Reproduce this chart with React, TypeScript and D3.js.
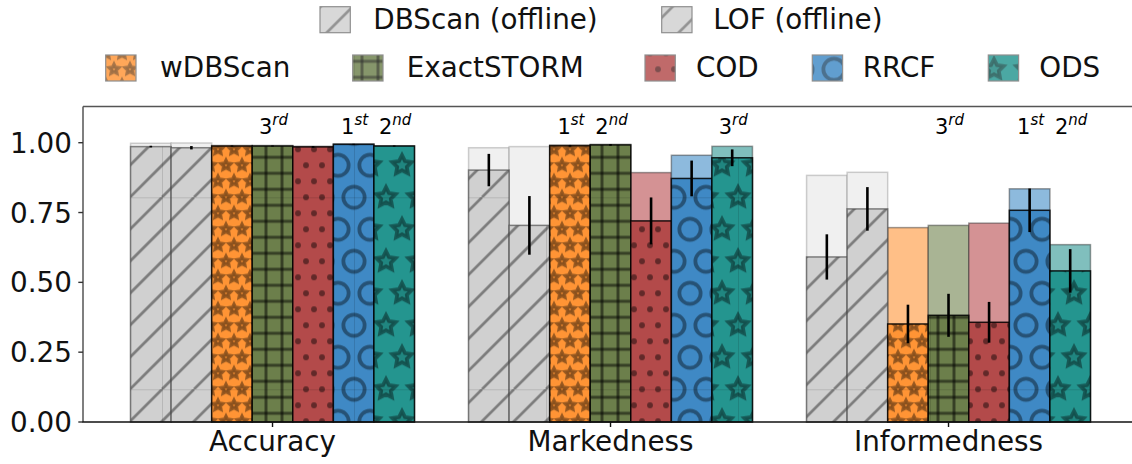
import React from 'react';
import * as d3 from 'd3';

// Metrics on the x axis and the compared detectors
const metrics = ['Accuracy', 'Markedness', 'Informedness'];
const methods = ['DBScan (offline)', 'LOF (offline)', 'wDBScan', 'ExactSTORM', 'COD', 'RRCF', 'ODS'];

// Mean score per method (solid hatched bar)
const accuracyMean = [0.986, 0.982, 0.988, 0.988, 0.985, 0.994, 0.988];
const markednessMean = [0.902, 0.704, 0.989, 0.992, 0.72, 0.872, 0.946];
const informednessMean = [0.591, 0.763, 0.351, 0.382, 0.357, 0.758, 0.541];

// Best score per method (pale bar behind)
const accuracyMax = [0.998, 0.999, 0.99, 0.99, 0.987, 0.996, 0.989];
const markednessMax = [0.982, 0.986, 0.992, 0.994, 0.893, 0.955, 0.987];
const informednessMax = [0.883, 0.894, 0.696, 0.704, 0.712, 0.835, 0.635];

// Standard deviation per method
const accuracyErr = [0.003, 0.006, 0.002, 0.002, 0.003, 0.002, 0.002];
const markednessErr = [0.058, 0.105, 0.003, 0.003, 0.084, 0.064, 0.03];
const informednessErr = [0.081, 0.078, 0.069, 0.077, 0.073, 0.078, 0.078];

// Ranking annotations: [method index, place, ordinal suffix]
const accuracyRanks: [number, string, string][] = [[3, '3', 'rd'], [5, '1', 'st'], [6, '2', 'nd']];
const markednessRanks: [number, string, string][] = [[2, '1', 'st'], [3, '2', 'nd'], [6, '3', 'rd']];
const informednessRanks: [number, string, string][] = [[3, '3', 'rd'], [5, '1', 'st'], [6, '2', 'nd']];

const yTicks = [0, 0.25, 0.5, 0.75, 1.0];

const meanByMetric = [accuracyMean, markednessMean, informednessMean];
const maxByMetric = [accuracyMax, markednessMax, informednessMax];
const errByMetric = [accuracyErr, markednessErr, informednessErr];
const ranksByMetric = [accuracyRanks, markednessRanks, informednessRanks];

// Styling
const solidColors = ['#d0d0d0', '#d0d0d0', '#ff9435', '#6c7f4b', '#b34a4a', '#3f89c5', '#24958f'];
const lightColors = ['#f0f0f0', '#f0f0f0', '#ffbf87', '#a9b494', '#d49294', '#8dbadd', '#80bfbd'];
const hatchKinds = ['diag', 'diag', 'smallStars', 'grid', 'dots', 'rings', 'stars'];

const W = 1132;
const H = 464;
const FONT = "'DejaVu Sans', sans-serif";
const TILE = 192;
const HATCH_W = 2.67;
const HATCH_INK = 'rgba(0,0,0,0.4)';
const GRID_INK = 'rgba(0,0,0,0.5)';

function starPath(cx: number, cy: number, r: number, inner = 0.5) {
  const pts: string[] = [];
  for (let i = 0; i < 10; i++) {
    const a = -Math.PI / 2 + (i * Math.PI) / 5;
    const rr = i % 2 === 0 ? r : r * inner;
    pts.push(`${(cx + rr * Math.cos(a)).toFixed(2)},${(cy + rr * Math.sin(a)).toFixed(2)}`);
  }
  return 'M' + pts.join('L') + 'Z';
}

// Staggered lattice used by the shape hatches (stars, rings, dots)
function lattice(step: number) {
  const n = TILE / step;
  const pts: [number, number][] = [];
  for (let k = 0; k <= n; k++) {
    const y = k * step;
    if (k % 2 === 0) {
      for (let j = 0; j <= n; j++) pts.push([j * step, y]);
    } else {
      for (let j = 0; j < n; j++) pts.push([step / 2 + j * step, y]);
    }
  }
  return pts;
}

function hatchContent(kind: string) {
  const out: React.ReactNode[] = [];
  if (kind === 'diag') {
    for (let c = 0; c <= 2 * TILE; c += 32) {
      out.push(<line key={'d' + c} x1={c} y1={0} x2={c - TILE} y2={TILE} stroke={HATCH_INK} strokeWidth={HATCH_W} />);
    }
  } else if (kind === 'grid') {
    for (let i = 0; i < 12; i++) {
      const p = (i + 0.5) * 16;
      out.push(<line key={'h' + i} x1={0} y1={p} x2={TILE} y2={p} stroke={GRID_INK} strokeWidth={HATCH_W + 0.3} />);
      out.push(<line key={'v' + i} x1={p} y1={0} x2={p} y2={TILE} stroke={GRID_INK} strokeWidth={HATCH_W + 0.3} />);
    }
  } else if (kind === 'smallStars' || kind === 'stars') {
    const step = kind === 'stars' ? 32 : 16;
    const r = step / 3;
    lattice(step).forEach(([x, y], i) => {
      out.push(
        <path key={'s' + i} d={starPath(x, y, r * 0.95)} fill="rgba(0,0,0,0.1)" stroke={HATCH_INK} strokeWidth={HATCH_W + 0.1 * r} strokeLinejoin="miter" />
      );
    });
  } else if (kind === 'rings') {
    const r = 32 * 0.35;
    lattice(32).forEach(([x, y], i) => {
      out.push(<circle key={'c' + i} cx={x} cy={y} r={r * 0.95} fill="none" stroke={HATCH_INK} strokeWidth={HATCH_W + 0.1 * r} />);
    });
  } else if (kind === 'dots') {
    lattice(16).forEach(([x, y], i) => {
      out.push(<circle key={'o' + i} cx={x} cy={y} r={1.6 + HATCH_W / 2} fill="rgba(0,0,0,0.45)" />);
    });
  }
  // faint seam where the hatch tile repeats
  out.push(<line key="seamx" x1={0.5} y1={0} x2={0.5} y2={TILE} stroke="rgba(0,0,0,0.12)" strokeWidth={1} />);
  out.push(<line key="seamy" x1={0} y1={0.5} x2={TILE} y2={0.5} stroke="rgba(0,0,0,0.12)" strokeWidth={1} />);
  return out;
}

// Legend layout
const legendRows = [
  { y: 6.7, items: [0, 1], handleX: [320, 661.7], textX: [373.3, 713.3] },
  { y: 55, items: [2, 3, 4, 5, 6], handleX: [105.7, 352.7, 645, 812.3, 988.3], textX: [160, 406.7, 696, 862.7, 1039.3] },
];

export default function App() {
  const plotLeft = 83;
  const unit = 338;
  const x = d3.scaleLinear().domain([-0.5607, 2.5607]).range([plotLeft, plotLeft + 3.1214 * unit]);
  const y = d3.scaleLinear().domain([0, 1.13]).range([422, 106.4]);
  const barW = 0.12;
  const bw = x(barW) - x(0);
  const barLeft = (g: number, i: number) => x(g + (i - 3) * barW - barW / 2);
  const barCenter = (g: number, i: number) => x(g + (i - 3) * barW);
  const yFmt = d3.format('.2f');

  return (
    <svg width={W} height={H} style={{ position: 'absolute', left: 0, top: 0, background: '#fff' }} fontFamily={FONT}>
      <defs>
        {methods.map((m, i) => (
          <pattern key={m} id={`hatch${i}`} patternUnits="userSpaceOnUse" x={162} y={5.3} width={TILE} height={TILE}>
            <rect width={TILE} height={TILE} fill={solidColors[i]} />
            {hatchContent(hatchKinds[i])}
          </pattern>
        ))}
      </defs>

      {/* pale bars: best run */}
      {metrics.map((mt, g) =>
        maxByMetric[g].map((v, i) => (
          <rect
            key={`max-${mt}-${i}`}
            x={barLeft(g, i)}
            y={y(v)}
            width={bw}
            height={y(0) - y(v)}
            fill={lightColors[i]}
            stroke={i < 2 ? 'rgba(120,120,120,0.35)' : 'rgba(40,40,40,0.45)'}
            strokeWidth={1.5}
          />
        ))
      )}

      {/* hatched bars: mean */}
      {metrics.map((mt, g) =>
        meanByMetric[g].map((v, i) => (
          <rect
            key={`mean-${mt}-${i}`}
            x={barLeft(g, i)}
            y={y(v)}
            width={bw}
            height={y(0) - y(v)}
            fill={`url(#hatch${i})`}
            stroke={i < 2 ? 'rgba(70,70,70,0.65)' : 'rgba(0,0,0,0.85)'}
            strokeWidth={1.5}
          />
        ))
      )}

      {/* error bars */}
      {metrics.map((mt, g) =>
        meanByMetric[g].map((v, i) => (
          <line
            key={`err-${mt}-${i}`}
            x1={barCenter(g, i)}
            x2={barCenter(g, i)}
            y1={y(v - errByMetric[g][i])}
            y2={y(v + errByMetric[g][i])}
            stroke="#000"
            strokeWidth={2.6}
          />
        ))
      )}

      {/* rank annotations */}
      {metrics.map((mt, g) =>
        ranksByMetric[g].map(([i, place, suffix]) => (
          <text key={`rank-${mt}-${i}`} x={barCenter(g, i) + 1} y={134} textAnchor="middle" fontSize={21} fill="#000">
            <tspan>{place}</tspan>
            <tspan fontStyle="italic" fontSize={15} dy={-9}>{suffix}</tspan>
          </text>
        ))
      )}

      {/* spines */}
      <line x1={plotLeft} x2={W} y1={y(1.13)} y2={y(1.13)} stroke="#555" strokeWidth={1.5} />
      <line x1={plotLeft} x2={plotLeft} y1={y(1.13)} y2={y(0)} stroke="#555" strokeWidth={1.5} />
      <line x1={plotLeft - 0.75} x2={W} y1={y(0)} y2={y(0)} stroke="#111" strokeWidth={1.5} />

      {/* y axis ticks */}
      {yTicks.map((t) => (
        <g key={`yt-${t}`}>
          <line x1={plotLeft - 4.7} x2={plotLeft} y1={y(t)} y2={y(t)} stroke="#333" strokeWidth={1.4} />
          <text x={72} y={y(t) + 10.1} textAnchor="end" fontSize={27.8} fill="#111">
            {yFmt(t)}
          </text>
        </g>
      ))}

      {/* x axis ticks */}
      {metrics.map((mt, g) => (
        <g key={`xt-${mt}`}>
          <line x1={x(g)} x2={x(g)} y1={y(0)} y2={y(0) + 5} stroke="#111" strokeWidth={1.4} />
          <text x={x(g)} y={451} textAnchor="middle" fontSize={27.8} fill="#111">
            {mt}
          </text>
        </g>
      ))}

      {/* legend */}
      {legendRows.map((row) =>
        row.items.map((i, k) => (
          <g key={`leg-${i}`}>
            <g opacity={0.82}>
              <rect x={row.handleX[k]} y={row.y} width={30.3} height={26} fill={`url(#hatch${i})`} stroke="#777" strokeWidth={1.2} />
            </g>
            <text x={row.textX[k]} y={row.y + 22.3} fontSize={27.8} fill="#111">
              {methods[i]}
            </text>
          </g>
        ))
      )}
    </svg>
  );
}
